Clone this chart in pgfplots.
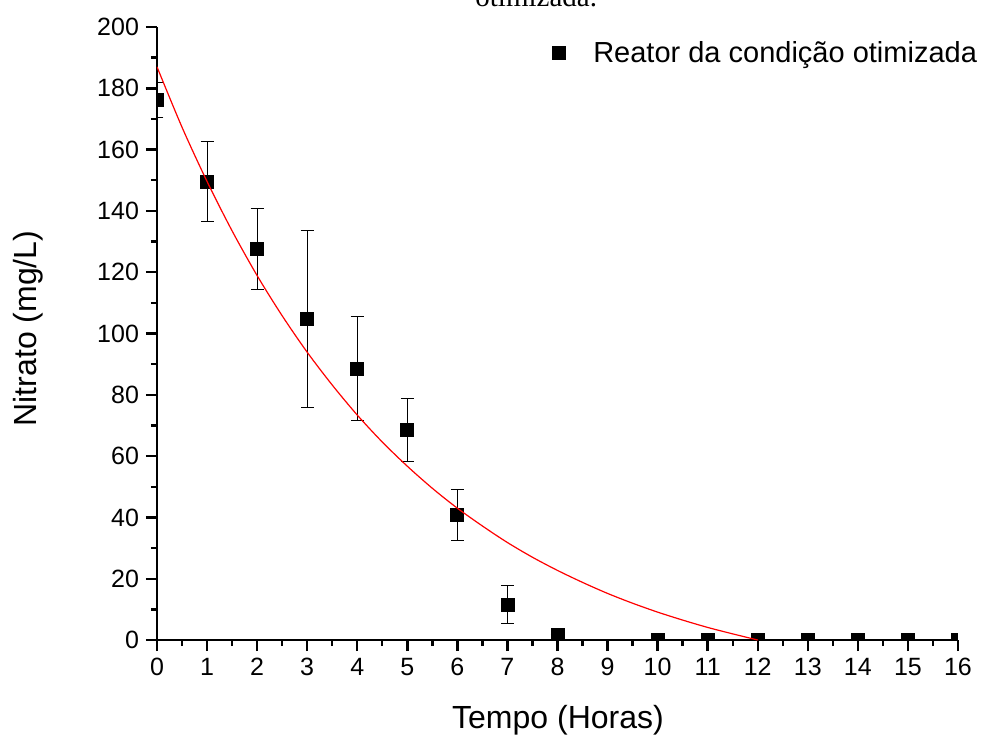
\documentclass[border=0pt]{standalone}
\usepackage{fontspec}
\setmainfont{Liberation Sans}
\newfontfamily\captionserif{Liberation Serif}
\usepackage{pgfplots}
\pgfplotsset{compat=1.18}

\begin{document}
\begin{tikzpicture}
\begin{axis}[
  scale only axis,
  width=400.5pt, height=306.5pt,
  xmin=0, xmax=16, ymin=0, ymax=200,
  axis lines=left,
  axis line style={-, line width=1.3pt},
  xtick={0,...,16}, ytick={0,20,...,200},
  minor x tick num=1, minor y tick num=1,
  tick align=outside,
  major tick length=5.5pt, minor tick length=3pt,
  tick style={black, line width=1.2pt},
  /pgf/number format/assume math mode=true,
  tick label style={font=\fontsize{12.5}{15}\selectfont},
  xlabel={Tempo (Horas)}, ylabel={Nitrato (mg/L)},
  label style={font=\fontsize{16}{19}\selectfont},
  xlabel style={at={(axis description cs:0.5006,-0.1436)}, anchor=base},
  ylabel style={at={(axis description cs:-0.151,0.508)}, anchor=base},
  clip marker paths=true,
  legend cell align=left,
  legend style={draw=none, fill=none, inner sep=0pt, outer sep=0pt,
    anchor=east, at={(1.0237,0.9576)},
    font=\fontsize{14.5}{17}\selectfont,
    nodes={inner sep=0pt}, column sep=14pt},
]
\coordinate (O) at (rel axis cs:0,0);

% measured nitrate with standard deviations
\addplot[only marks, mark=square*, mark size=3.25pt, black,
  error bars/.cd, y dir=both, y explicit,
  error bar style={line width=0.5pt, black},
  error mark options={rotate=90, mark size=3.25pt, line width=0.5pt, black}]
  coordinates {
    (0,176.2)  +- (0,5.7)
    (1,149.6)  +- (0,13.2)
    (2,127.5)  +- (0,13.3)
    (3,104.7)  +- (0,29.0)
    (4,88.5)   +- (0,16.9)
    (5,68.5)   +- (0,10.3)
    (6,40.9)   +- (0,8.3)
    (7,11.6)   +- (0,6.2)
    (8,1.8)    +- (0,0)
    (10,0)     +- (0,0)
    (11,0)     +- (0,0)
    (12,0)     +- (0,0)
    (13,0)     +- (0,0)
    (14,0)     +- (0,0)
    (15,0)     +- (0,0)
    (16,0)     +- (0,0)
  };
\addlegendentry{Reator da condição otimizada}

% fitted decay curve
\addplot[red, line width=0.6pt, smooth, forget plot] coordinates {
  (0,187.0) (0.5,167.3) (1,149.6) (1.5,133.5) (2,118.9) (2.5,105.8)
  (3,93.9) (3.5,83.2) (4,73.4) (4.5,64.6) (5,56.7) (5.5,49.5)
  (6,43.0) (6.5,37.2) (7,31.8) (7.5,27.0) (8,22.7) (8.5,18.8)
  (9,15.2) (9.5,12.0) (10,9.1) (10.5,6.5) (11,4.1) (11.5,2.0) (12,0.0)
};
\end{axis}

% end of the caption line above the figure
\node[anchor=base west, inner sep=0pt,
  font=\captionserif\fontsize{14.5}{17}\selectfont]
  at ([shift={(159pt,316.5pt)}]O) {otimizada.};

\pgfresetboundingbox
\path ([shift={(-78.5pt,-47.5pt)}]O) rectangle ++(490.5pt,367.5pt);
\end{tikzpicture}
\end{document}
